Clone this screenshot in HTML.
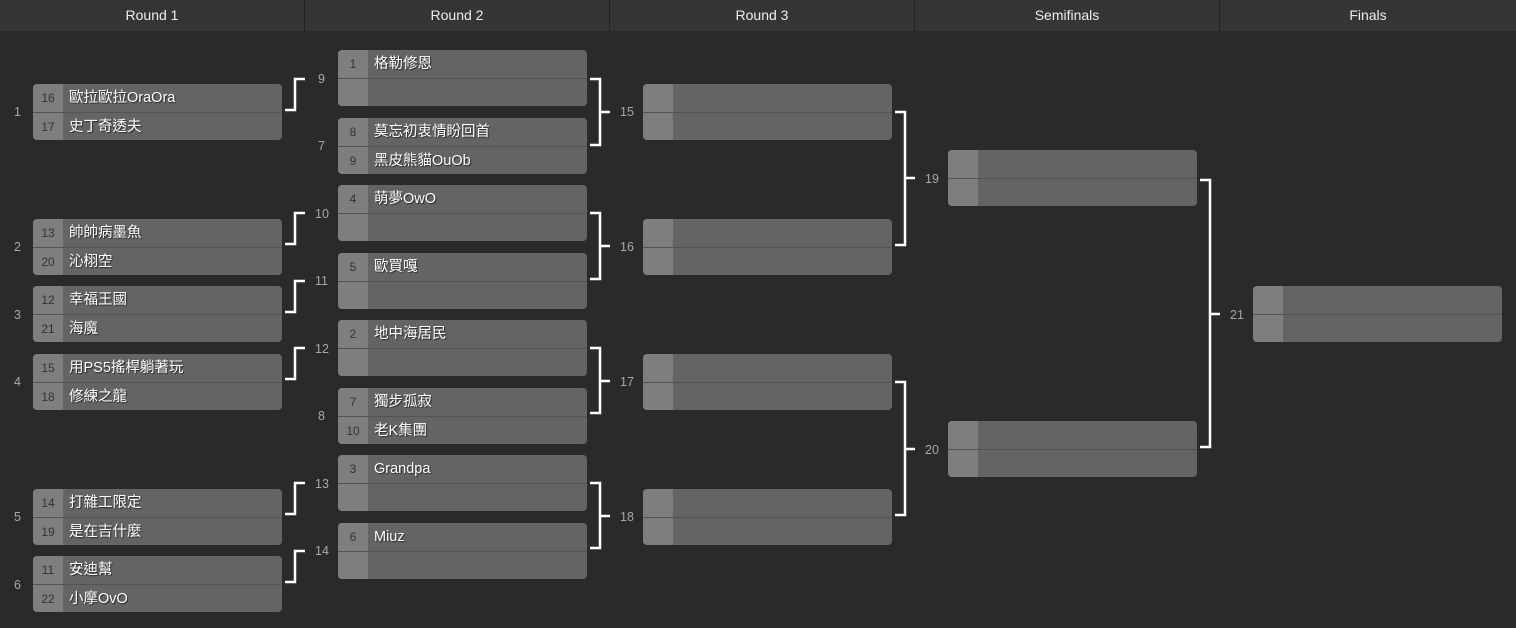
<!DOCTYPE html>
<html><head><meta charset="utf-8"><style>
*{margin:0;padding:0;box-sizing:border-box}
body{width:1516px;height:628px;background:#2a2a2a;position:relative;overflow:hidden;font-family:"Liberation Sans","Noto Sans CJK TC",sans-serif}
.hd{position:absolute;top:0;left:0;width:1516px;height:31px;background:#353535}
.hd div{position:absolute;top:0;height:31px;width:305px;text-align:center;color:#eee;font-size:14px;line-height:31px;border-left:1px solid #232323}
.m{position:absolute;width:249px;height:56px;border-radius:4px;background:#646464;overflow:hidden}
.r{height:28px;display:flex;position:relative}
.r+.r{border-top:1px solid #535353;height:28px}
.s{width:30px;background:#7e7e7e;color:#333;font-size:12px;text-align:center;line-height:28px}
.n{padding-left:6px;color:#fff;font-size:14.5px;line-height:28px;text-shadow:1px 1px 1px rgba(0,0,0,.6)}
.l{position:absolute;color:#a8a8a8;font-size:12.5px;line-height:14px}
</style></head><body>
<div class="hd"><div style="left:0;border-left:none;width:304px">Round 1</div><div style="left:304px">Round 2</div><div style="left:609px">Round 3</div><div style="left:914px">Semifinals</div><div style="left:1219px;width:297px">Finals</div></div>

<svg width="1516" height="628" style="position:absolute;left:0;top:0" fill="none" stroke="#fff" stroke-width="2.5">
<path d="M285 110H295V79H305"/>
<path d="M285 244H295V213H305"/>
<path d="M285 312H295V281H305"/>
<path d="M285 379H295V348H305"/>
<path d="M285 514H295V483H305"/>
<path d="M285 582H295V551H305"/>
<path d="M590 79H600V145H590M600 112H610"/>
<path d="M590 213H600V279H590M600 246H610"/>
<path d="M590 348H600V413H590M600 381H610"/>
<path d="M590 483H600V548H590M600 516H610"/>
<path d="M895 112H905V245H895M905 178H915"/>
<path d="M895 382H905V515H895M905 449H915"/>
<path d="M1200 180H1210V447H1200M1210 314H1220"/>
</svg>

<div class="l" style="left:11px;top:105px">1</div>
<div class="l" style="left:11px;top:240px">2</div>
<div class="l" style="left:11px;top:308px">3</div>
<div class="l" style="left:11px;top:375px">4</div>
<div class="l" style="left:11px;top:510px">5</div>
<div class="l" style="left:11px;top:578px">6</div>

<div class="l" style="left:315px;top:72px">9</div>
<div class="l" style="left:315px;top:139px">7</div>
<div class="l" style="left:312px;top:207px">10</div>
<div class="l" style="left:312px;top:274px">11</div>
<div class="l" style="left:312px;top:342px">12</div>
<div class="l" style="left:315px;top:409px">8</div>
<div class="l" style="left:312px;top:477px">13</div>
<div class="l" style="left:312px;top:544px">14</div>

<div class="l" style="left:617px;top:105px">15</div>
<div class="l" style="left:617px;top:240px">16</div>
<div class="l" style="left:617px;top:375px">17</div>
<div class="l" style="left:617px;top:510px">18</div>
<div class="l" style="left:922px;top:172px">19</div>
<div class="l" style="left:922px;top:443px">20</div>
<div class="l" style="left:1227px;top:308px">21</div>

<style>.l{transform:translateX(3px)}</style>

<div class="m" style="left:33px;top:84px"><div class="r"><div class="s">16</div><div class="n">歐拉歐拉OraOra</div></div><div class="r"><div class="s">17</div><div class="n">史丁奇透夫</div></div></div>
<div class="m" style="left:33px;top:219px"><div class="r"><div class="s">13</div><div class="n">帥帥病墨魚</div></div><div class="r"><div class="s">20</div><div class="n">沁栩空</div></div></div>
<div class="m" style="left:33px;top:286px"><div class="r"><div class="s">12</div><div class="n">幸福王國</div></div><div class="r"><div class="s">21</div><div class="n">海魔</div></div></div>
<div class="m" style="left:33px;top:354px"><div class="r"><div class="s">15</div><div class="n">用PS5搖桿躺著玩</div></div><div class="r"><div class="s">18</div><div class="n">修練之龍</div></div></div>
<div class="m" style="left:33px;top:489px"><div class="r"><div class="s">14</div><div class="n">打雜工限定</div></div><div class="r"><div class="s">19</div><div class="n">是在吉什麼</div></div></div>
<div class="m" style="left:33px;top:556px"><div class="r"><div class="s">11</div><div class="n">安迪幫</div></div><div class="r"><div class="s">22</div><div class="n">小摩OvO</div></div></div>

<div class="m" style="left:338px;top:50px"><div class="r"><div class="s">1</div><div class="n">格勒修恩</div></div><div class="r"><div class="s"></div><div class="n"></div></div></div>
<div class="m" style="left:338px;top:118px"><div class="r"><div class="s">8</div><div class="n">莫忘初衷情盼回首</div></div><div class="r"><div class="s">9</div><div class="n">黑皮熊貓OuOb</div></div></div>
<div class="m" style="left:338px;top:185px"><div class="r"><div class="s">4</div><div class="n">萌夢OwO</div></div><div class="r"><div class="s"></div><div class="n"></div></div></div>
<div class="m" style="left:338px;top:253px"><div class="r"><div class="s">5</div><div class="n">歐買嘎</div></div><div class="r"><div class="s"></div><div class="n"></div></div></div>
<div class="m" style="left:338px;top:320px"><div class="r"><div class="s">2</div><div class="n">地中海居民</div></div><div class="r"><div class="s"></div><div class="n"></div></div></div>
<div class="m" style="left:338px;top:388px"><div class="r"><div class="s">7</div><div class="n">獨步孤寂</div></div><div class="r"><div class="s">10</div><div class="n">老K集團</div></div></div>
<div class="m" style="left:338px;top:455px"><div class="r"><div class="s">3</div><div class="n">Grandpa</div></div><div class="r"><div class="s"></div><div class="n"></div></div></div>
<div class="m" style="left:338px;top:523px"><div class="r"><div class="s">6</div><div class="n">Miuz</div></div><div class="r"><div class="s"></div><div class="n"></div></div></div>

<div class="m" style="left:643px;top:84px"><div class="r"><div class="s"></div></div><div class="r"><div class="s"></div></div></div>
<div class="m" style="left:643px;top:219px"><div class="r"><div class="s"></div></div><div class="r"><div class="s"></div></div></div>
<div class="m" style="left:643px;top:354px"><div class="r"><div class="s"></div></div><div class="r"><div class="s"></div></div></div>
<div class="m" style="left:643px;top:489px"><div class="r"><div class="s"></div></div><div class="r"><div class="s"></div></div></div>

<div class="m" style="left:948px;top:150px"><div class="r"><div class="s"></div></div><div class="r"><div class="s"></div></div></div>
<div class="m" style="left:948px;top:421px"><div class="r"><div class="s"></div></div><div class="r"><div class="s"></div></div></div>

<div class="m" style="left:1253px;top:286px"><div class="r"><div class="s"></div></div><div class="r"><div class="s"></div></div></div>
</body></html>
